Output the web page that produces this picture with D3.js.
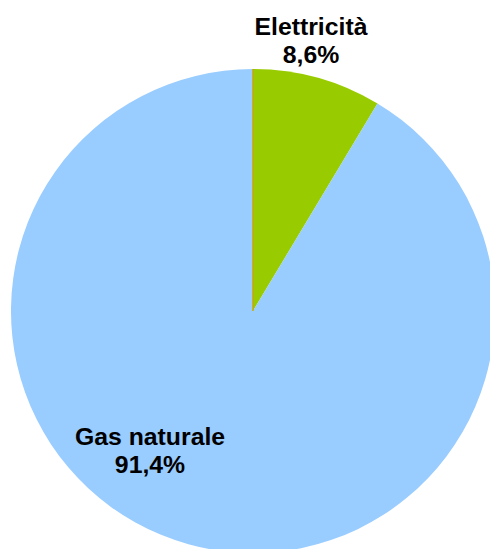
<!DOCTYPE html>
<html><head><meta charset="utf-8">
<script src="https://cdn.jsdelivr.net/npm/d3@7"></script>
<style>html,body{margin:0;padding:0;background:#fff;overflow:hidden}</style>
</head><body>
<svg id="c" width="490" height="549"></svg>
<script>
const categories = ["Elettricità", "Gas naturale"];
const values = [8.6, 91.4];
const valueLabels = ["8,6%", "91,4%"];
const colors = ["#99CC00", "#99CCFF"];

const svg = d3.select("#c");
const cx = 253, cy = 311, r = 242;
const g = svg.append("g").attr("transform", `translate(${cx},${cy})`);
const pie = d3.pie().sort(null).value(d => d)(values);
const arc = d3.arc().innerRadius(0).outerRadius(r);
g.selectAll("path").data(pie).enter().append("path")
  .attr("d", arc).attr("fill", (d, i) => colors[i]);
// thin boundary line at start angle
g.append("line").attr("x1", 0).attr("y1", 0).attr("x2", 0).attr("y2", -r)
  .attr("stroke", "#c8a800").attr("stroke-width", 1.5);

const labelPos = [[311, 35], [150, 445]];
categories.forEach((c, i) => {
  const t = svg.append("text").attr("text-anchor", "middle")
    .attr("font-family", "Liberation Sans, Arial, sans-serif")
    .attr("font-weight", "bold").attr("font-size", 24.8).attr("fill", "#000");
  t.append("tspan").attr("x", labelPos[i][0]).attr("y", labelPos[i][1]).text(c);
  t.append("tspan").attr("x", labelPos[i][0]).attr("y", labelPos[i][1] + 28).text(valueLabels[i]);
});
</script>
</body></html>
